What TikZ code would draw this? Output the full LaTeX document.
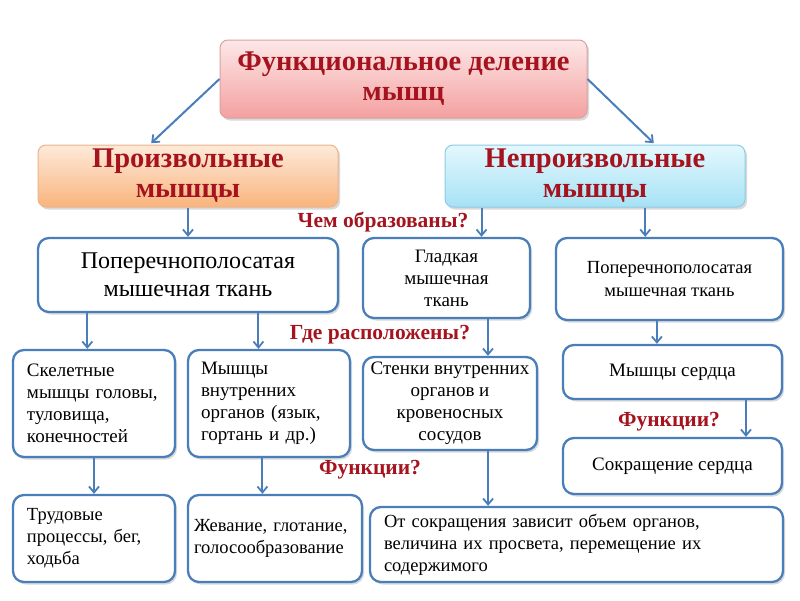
\documentclass[tikz,border=0pt]{standalone}
\usepackage{fontspec}
\setmainfont{Liberation Serif}
\usetikzlibrary{arrows.meta,shadows,calc}
\definecolor{bblue}{RGB}{74,126,187}
\definecolor{dred}{RGB}{165,20,30}
\tikzset{
  sh/.style={drop shadow={opacity=0.3,shadow xshift=2pt,shadow yshift=-2.5pt}},
  box/.style={draw=bblue,line width=2.3pt,rounded corners=11pt,fill=white,sh,inner sep=0pt,align=center,font=\fontsize{19}{22}\selectfont},
  lbox/.style={box,align=left},
  bbox/.style={lbox,font=\fontsize{18.5}{22}\selectfont},
  head/.style={rounded corners=8pt,line width=1pt,shading=axis,sh,inner sep=0pt,align=center,text=dred,font=\fontsize{28.5}{30}\selectfont\bfseries},
  lab/.style={text=dred,font=\fontsize{21.5}{22}\selectfont\bfseries,inner sep=0pt},
  arr/.style={draw=bblue,line width=2pt,-{Straight Barb[length=6pt,width=10pt,line width=1.8pt]}}
}
\begin{document}
\begin{tikzpicture}[x=1pt,y=-1pt]
\useasboundingbox (0,0) rectangle (800,600);
% headers
\node[head,draw={rgb,255:red,220;green,160;blue,160},top color={rgb,255:red,253;green,232;blue,232},bottom color={rgb,255:red,244;green,160;blue,160},minimum width=367pt,minimum height=78pt] (top) at (403.5,79) {Функциональное деление\\мышц};
\node[head,draw={rgb,255:red,235;green,180;blue,140},top color={rgb,255:red,253;green,234;blue,218},bottom color={rgb,255:red,249;green,180;blue,125},minimum width=300pt,minimum height=62pt] (vol) at (188,176) {Произвольные\\мышцы};
\node[head,draw={rgb,255:red,140;green,205;blue,230},top color={rgb,255:red,228;green,248;blue,253},bottom color={rgb,255:red,166;green,226;blue,245},minimum width=300pt,minimum height=62pt] (inv) at (595,176) {Непроизвольные\\мышцы};
% level 1
\node[box,font=\fontsize{24}{28}\selectfont,minimum width=300pt,minimum height=74pt] (L1) at (188,275) {Поперечнополосатая\\мышечная ткань};
\node[box,minimum width=167pt,minimum height=80pt] (M1) at (446.5,278) {Гладкая\\мышечная\\ткань};
\node[box,font=\fontsize{18.5}{23}\selectfont,minimum width=227pt,minimum height=82pt] (R1) at (669.5,279) {Поперечнополосатая\\мышечная ткань};
% level 2
\node[lbox,text width=134pt,minimum width=162pt,minimum height=107pt] (L2) at (94,403.5) {Скелетные\\мышцы головы,\\туловища,\\конечностей};
\node[lbox,text width=136pt,minimum width=162pt,minimum height=107pt] (L3) at (269,403.5) {Мышцы\\внутренних\\органов (язык,\\гортань и др.)};
\node[box,minimum width=174pt,minimum height=93pt] (M2) at (450,403.5) {Стенки внутренних\\органов и\\кровеносных\\сосудов};
\node[box,minimum width=219pt,minimum height=54pt] (R2) at (672.5,372) {Мышцы сердца};
\node[box,minimum width=219pt,minimum height=56pt] (R3) at (672.5,466) {Сокращение сердца};
% level 3
\node[bbox,text width=134pt,minimum width=162pt,minimum height=87pt] (L4) at (94,538.5) {Трудовые\\процессы, бег,\\ходьба};
\node[bbox,text width=162pt,minimum width=174pt,minimum height=87pt] (L5) at (275,538.5) {Жевание, глотание,\\голосообразование};
\node[bbox,text width=385pt,minimum width=413pt,minimum height=75pt] (M3) at (576.5,544.5) {От сокращения зависит объем органов,\\величина их просвета, перемещение их\\содержимого};
% labels
\node[lab] (q1) at (383,222) {Чем образованы?};
\node[lab] (q2) at (380,335) {Где расположены?};
\node[lab] (q3) at (669,422) {Функции?};
\node[lab] (q4) at (370,470) {Функции?};
% arrows
\draw[arr,shorten >=2pt] (top.west) -- ($(vol.north west)!0.373!(vol.north east)$);
\draw[arr,shorten >=2pt] (top.east) -- ($(inv.north west)!0.70!(inv.north east)$);
\draw[arr] (vol.south) -- (L1.north);
\path ($(inv.south west)!0.123!(inv.south east)$) coordinate (c1);
\draw[arr] (c1) -- (c1 |- M1.north);
\path ($(inv.south west)!0.667!(inv.south east)$) coordinate (c2);
\draw[arr] (c2) -- (c2 |- R1.north);
\path ($(L1.south west)!0.167!(L1.south east)$) coordinate (c3);
\draw[arr] (c3) -- (c3 |- L2.north);
\path ($(L1.south west)!0.733!(L1.south east)$) coordinate (c4);
\draw[arr] (c4) -- (c4 |- L3.north);
\path ($(M1.south west)!0.745!(M1.south east)$) coordinate (c5);
\draw[arr] (c5) -- (c5 |- M2.north);
\path ($(R1.south west)!0.445!(R1.south east)$) coordinate (c6);
\draw[arr] (c6) -- (c6 |- R2.north);
\path ($(R2.south west)!0.832!(R2.south east)$) coordinate (c7);
\draw[arr] (c7) -- (c7 |- R3.north);
\draw[arr] (L2.south) -- (L4.north);
\path ($(L3.south west)!0.46!(L3.south east)$) coordinate (c8);
\draw[arr] (c8) -- (c8 |- L5.north);
\path ($(M2.south west)!0.716!(M2.south east)$) coordinate (c9);
\draw[arr] (c9) -- (c9 |- M3.north);
\end{tikzpicture}
\end{document}
